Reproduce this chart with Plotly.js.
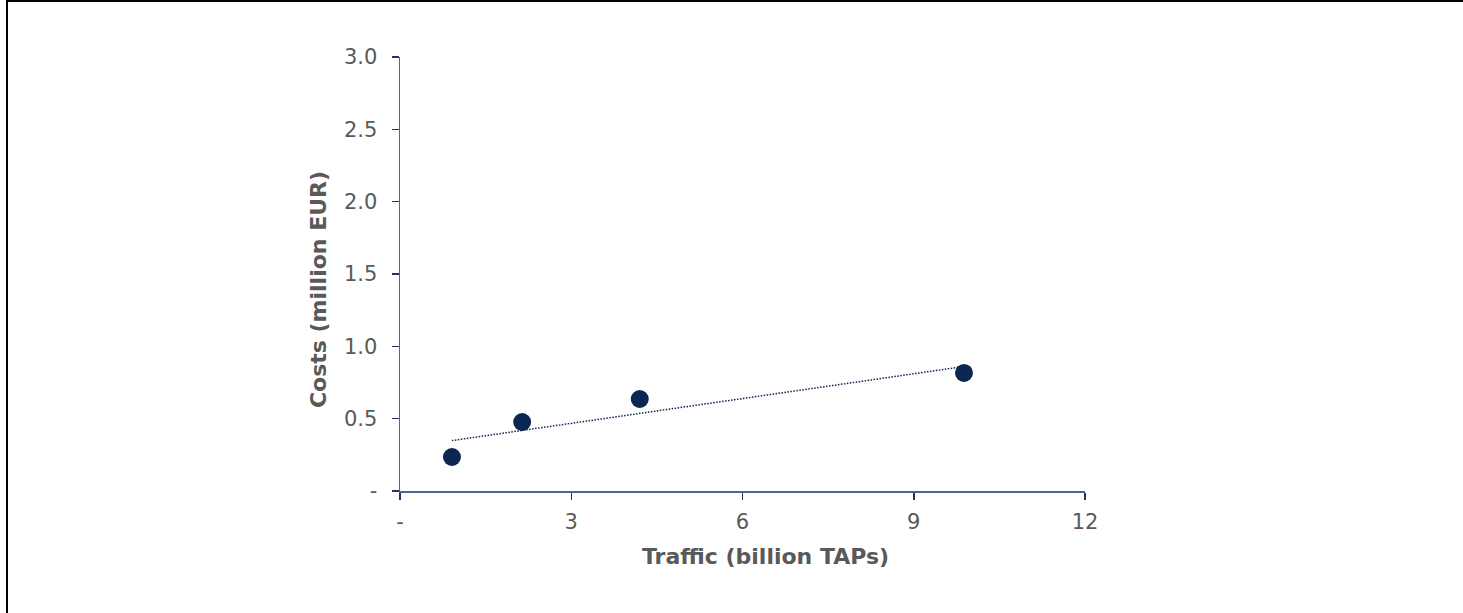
<!DOCTYPE html>
<html>
<head>
<meta charset="utf-8">
<script src="https://cdn.plot.ly/plotly-3.0.1.min.js"></script>
<style>
html,body{margin:0;padding:0;background:#fff;}
#wrap{position:relative;width:1463px;height:613px;}
#chart{position:absolute;left:0;top:0;width:1463px;height:613px;}
#frame{position:absolute;left:6px;top:0;width:1463px;height:613px;border-left:2px solid #000;border-top:2px solid #000;pointer-events:none;}
</style>
</head>
<body>
<div id="wrap"><div id="chart"></div><div id="frame"></div></div>
<script>
// Data
const traffic = [0.91, 2.14, 4.20, 9.88];      // billion TAPs
const costs   = [0.235, 0.477, 0.636, 0.816];   // million EUR

const xTickVals = [0, 3, 6, 9, 12];
const xTickText = ['-', '3', '6', '9', '12'];
const yTickVals = [0, 0.5, 1.0, 1.5, 2.0, 2.5, 3.0];
const yTickText = ['-', '0.5', '1.0', '1.5', '2.0', '2.5', '3.0'];
const xTitle = 'Traffic (billion TAPs)';
const yTitle = 'Costs (million EUR)';

// Linear trendline (least squares) over the data
const n = traffic.length;
const mx = traffic.reduce((a,b)=>a+b,0)/n;
const my = costs.reduce((a,b)=>a+b,0)/n;
let sxy = 0, sxx = 0;
for (let i=0;i<n;i++){ sxy += (traffic[i]-mx)*(costs[i]-my); sxx += (traffic[i]-mx)**2; }
const slope = sxy/sxx, icpt = my - slope*mx;
const tx = [Math.min(...traffic), Math.max(...traffic)];
const ty = tx.map(v => icpt + slope*v);

const navy = '#0b2650';
const axisCol = '#4f6397';
const tickCol = '#1f3366';
const fontFam = 'Verdana, "DejaVu Sans", sans-serif';
const grey = '#595959';

const traces = [
  {x: tx, y: ty, mode: 'lines', type: 'scatter',
   line: {color: navy, width: 1.5, dash: '1.5px,1.5px'}, hoverinfo: 'skip', showlegend: false},
  {x: traffic, y: costs, mode: 'markers', type: 'scatter',
   marker: {color: navy, size: 18}, showlegend: false}
];

const layout = {
  width: 1463, height: 613,
  margin: {l: 400, r: 378, t: 57, b: 122, pad: 0},
  paper_bgcolor: '#fff', plot_bgcolor: '#fff',
  font: {family: fontFam, color: grey, size: 21},
  xaxis: {
    range: [0, 12], tickvals: xTickVals, ticktext: xTickText,
    showgrid: false, zeroline: false, showline: true, linecolor: axisCol, linewidth: 1.5,
    ticks: 'outside', ticklen: 7, tickcolor: tickCol, tickwidth: 1.5,
    ticklabelstandoff: 4,
    tickfont: {family: fontFam, color: grey, size: 21}
  },
  yaxis: {
    range: [0, 3], tickvals: yTickVals, ticktext: yTickText,
    showgrid: false, zeroline: false, showline: true, linecolor: axisCol, linewidth: 1.5,
    ticks: 'outside', ticklen: 7, tickcolor: tickCol, tickwidth: 1.5,
    ticklabelstandoff: 10,
    tickfont: {family: fontFam, color: grey, size: 21}
  },
  annotations: [
    {text: xTitle, xref: 'paper', yref: 'paper', x: 0.534, y: -0.15, xanchor: 'center', yanchor: 'middle',
     showarrow: false, font: {family: fontFam, color: grey, size: 22, weight: 'bold'}},
    {text: yTitle, xref: 'paper', yref: 'paper', x: -0.1197, y: 0.463, xanchor: 'center', yanchor: 'middle',
     textangle: -90, showarrow: false, font: {family: fontFam, color: grey, size: 22, weight: 'bold'}}
  ]
};

Plotly.newPlot('chart', traces, layout, {displayModeBar: false, staticPlot: true});
</script>
</body>
</html>
